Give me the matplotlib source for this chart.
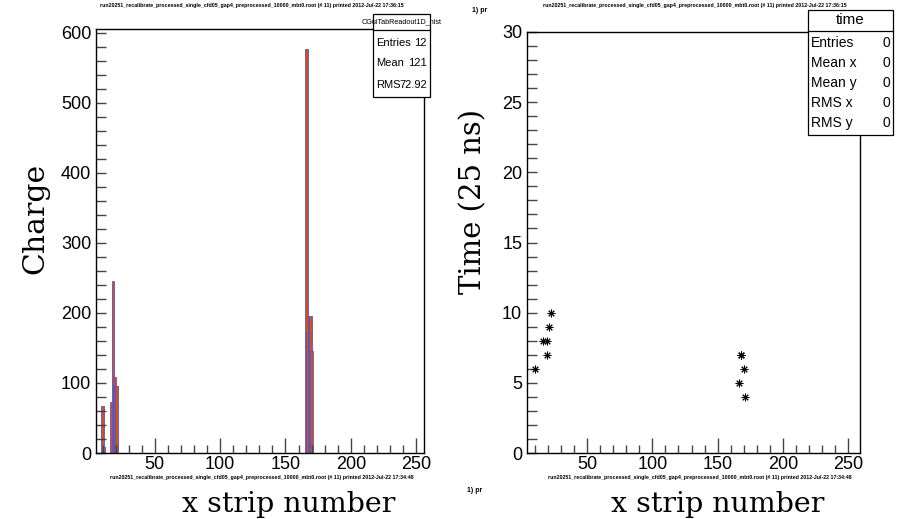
import matplotlib
matplotlib.use('Agg')
import matplotlib.pyplot as plt
from matplotlib.patches import Rectangle
from matplotlib.ticker import MultipleLocator

W, H = 898, 519

# left pad: charge per strip
strips = [10, 11, 17, 18, 19, 20, 21, 166, 167, 168, 169, 170]
charges = [67, 8, 73, 245, 108, 95, 95, 577, 172, 195, 195, 145]

# right pad: hit time per strip
hit_strips = [10, 19, 16, 19, 21, 22, 168, 168, 170, 166, 171]
hit_times = [6, 7, 8, 8, 9, 10, 7, 7, 6, 5, 4]

hist_stats = [('Entries', '12'), ('Mean', '121'), ('RMS', '72.92')]
time_stats = [('Entries', '0'), ('Mean x', '0'), ('Mean y', '0'),
              ('RMS x', '0'), ('RMS y', '0')]

header_top = ('run20251_recalibrate_processed_single_cfd05_gap4_preprocessed_'
              '10000_mbt0.root (# 11) printed 2012-Jul-22 17:36:15')
header_bot = ('run20251_recalibrate_processed_single_cfd05_gap4_preprocessed_'
              '10000_mbt0.root (# 11) printed 2012-Jul-22 17:34:48')

SANS = 'Liberation Sans'
SERIF = 'DejaVu Serif'


def fx(px):
    return px / W


def fy(py):
    return 1 - py / H


def make_axes(fig, x0, x1, y0, y1):
    ax = fig.add_axes([fx(x0), fy(y1), fx(x1 - x0), (y1 - y0) / H])
    for s in ax.spines.values():
        s.set_linewidth(1.0)
        s.set_color('black')
    ax.tick_params(which='both', direction='in', top=False, right=False,
                   labelsize=13, color='#444444')
    ax.tick_params(which='major', length=11, width=1)
    ax.tick_params(which='minor', length=6, width=1)
    ax.tick_params(axis='y', which='both', length=7)
    for lab in ax.get_xticklabels() + ax.get_yticklabels():
        lab.set_fontfamily(SANS)
    return ax


def stats_box(fig, x0, x1, y0, y_sep, rows, row_h, title, title_size,
              size=10):
    y1 = y_sep + row_h * len(rows) + 4
    fig.add_artist(Rectangle((fx(x0), fy(y1)), fx(x1 - x0), (y1 - y0) / H,
                             transform=fig.transFigure, facecolor='white',
                             edgecolor='black', linewidth=0.9, zorder=5))
    fig.add_artist(plt.Line2D([fx(x0), fx(x1)], [fy(y_sep), fy(y_sep)],
                              transform=fig.transFigure, color='black',
                              linewidth=0.9, zorder=6))
    fig.text(fx((x0 + x1) / 2), fy((y0 + y_sep) / 2), title, ha='center',
             va='center', fontsize=title_size, family=SANS, zorder=7)
    for i, (name, val) in enumerate(rows):
        yy = y_sep + row_h * (i + 0.5) + 2
        fig.text(fx(x0 + 3), fy(yy), name, ha='left', va='center',
                 fontsize=size, family=SANS, zorder=7)
        fig.text(fx(x1 - 3), fy(yy), val, ha='right', va='center',
                 fontsize=size, family=SANS, zorder=7)


fig = plt.figure(figsize=(W / 100, H / 100), dpi=100)

# Charge histogram
ax1 = make_axes(fig, 96, 424, 29, 453)
ax1.bar(strips, charges, width=2.2, color='#cc5418', edgecolor='#5b52c6',
        linewidth=0.6, align='center')
ax1.set_xlim(5, 256)
ax1.set_ylim(0, 605.7)
ax1.xaxis.set_major_locator(MultipleLocator(50))
ax1.xaxis.set_minor_locator(MultipleLocator(10))
ax1.yaxis.set_major_locator(MultipleLocator(100))
ax1.yaxis.set_minor_locator(MultipleLocator(20))
ax1.tick_params(axis='x', pad=2)

# Time scatter
ax2 = make_axes(fig, 527, 860, 32, 453)
ax2.plot(hit_strips, hit_times, linestyle='none', marker=(8, 2, 0),
         markersize=5.5, markeredgewidth=0.7, color='black')
ax2.set_xlim(4, 259)
ax2.set_ylim(0, 30)
ax2.xaxis.set_major_locator(MultipleLocator(50))
ax2.xaxis.set_minor_locator(MultipleLocator(10))
ax2.yaxis.set_major_locator(MultipleLocator(5))
ax2.yaxis.set_minor_locator(MultipleLocator(1))
ax2.tick_params(axis='x', pad=2)

# axis titles
fig.text(fx(35), fy(218), 'Charge', rotation=90, ha='center', va='center',
         fontsize=21.5, family=SERIF)
fig.text(fx(473), fy(202), 'Time (25 ns)', rotation=90, ha='center',
         va='center', fontsize=21, family=SERIF)
fig.text(fx(289), fy(505), 'x strip number', ha='center', va='center',
         fontsize=20.5, family=SERIF)
fig.text(fx(718), fy(505), 'x strip number', ha='center', va='center',
         fontsize=20.5, family=SERIF)

# print headers
for cx, cy, txt in [(252, 5, header_top), (695, 5, header_top),
                    (262, 477, header_bot), (700, 477, header_bot)]:
    fig.text(fx(cx), fy(cy), txt, ha='center', va='center', fontsize=3.8,
             family=SANS, fontweight='bold')
fig.text(fx(472), fy(11), '1) pr', ha='left', va='center', fontsize=5,
         family=SANS, fontweight='bold')
fig.text(fx(467), fy(490), '1) pr', ha='left', va='center', fontsize=5,
         family=SANS, fontweight='bold')

# stat boxes
stats_box(fig, 373, 430, 14, 30, hist_stats, 21, 'CGuiTabReadout1D_hist',
          5.2, size=8)
stats_box(fig, 808, 893, 10, 31, time_stats, 20, 'time', 11)

fig.savefig('out.png', dpi=100)
